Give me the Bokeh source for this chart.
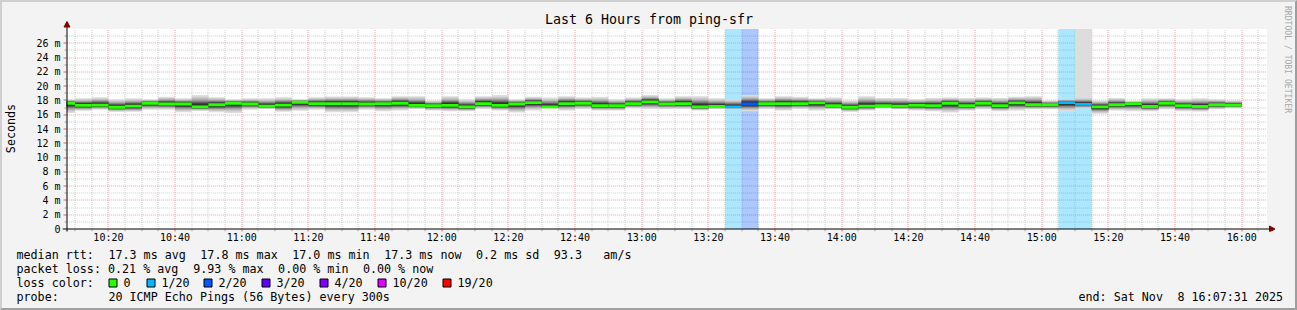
import re
import math
from bokeh.plotting import figure
from bokeh.layouts import column, row
from bokeh.models import FixedTicker, ColumnDataSource, Range1d
from bokeh.core.properties import value
from bokeh.embed import file_html
from bokeh.resources import INLINE

# ---------------- data ----------------
title_text = "Last 6 Hours from ping-sfr"
y_axis_title = "Seconds"
watermark = "RRDTOOL / TOBI OETIKER"
graph_start = "10:07:31"
graph_hours = 6
first_step = "10:05"
step_minutes = 5

x_tick_labels = ["10:20", "10:40", "11:00", "11:20", "11:40", "12:00", "12:20", "12:40",
                 "13:00", "13:20", "13:40", "14:00", "14:20", "14:40", "15:00", "15:20",
                 "15:40", "16:00"]
y_tick_values = [0, 2, 4, 6, 8, 10, 12, 14, 16, 18, 20, 22, 24, 26]
y_tick_labels = ["0", "2 m", "4 m", "6 m", "8 m", "10 m", "12 m", "14 m", "16 m", "18 m",
                 "20 m", "22 m", "24 m", "26 m"]
y_max = 28

# median rtt per 5-minute step (ms), steps starting 10:05 ... 15:55
median_ms = [17.6, 17.3, 17.35, 17.05, 17.2, 17.6, 17.5, 17.5, 17.1, 17.4, 17.6,
             17.5, 17.2, 17.35, 17.75, 17.55, 17.55, 17.55, 17.5, 17.55, 17.6, 17.3, 17.25,
             17.3, 17.1, 17.55, 17.3, 17.5, 17.7, 17.1, 17.55, 17.6, 17.25, 17.25, 17.55,
             17.8, 17.5, 17.55, 17.1, 17.15, 17.1, 17.5, 17.55, 17.55, 17.55, 17.65, 17.25,
             17.05, 17.2, 17.25, 17.2, 17.3, 17.25, 17.6, 17.25, 17.6, 17.25, 17.65, 17.4,
             17.4, 17.7, 17.45, 17.1, 17.4, 17.55, 17.15, 17.6, 17.25, 17.15, 17.4, 17.35]
# slowest ping (ms)
hi_ms = [18.15, 18.3, 18.45, 18.15, 18.3, 18.15, 18.5, 18.3, 18.75, 18.45, 18.15,
         18.3, 18.3, 18.45, 18.15, 18.45, 18.55, 18.55, 18.45, 18.3, 18.6, 18.6, 18.0,
         18.6, 18.15, 18.6, 18.75, 18.15, 18.5, 18.4, 18.6, 18.4, 18.5, 18.15, 18.4,
         18.75, 18.3, 18.6, 18.6, 18.3, 18.15, 18.75, 18.3, 18.6, 18.5, 18.3, 18.4,
         18.0, 18.6, 18.35, 18.35, 18.2, 18.35, 18.4, 18.35, 18.4, 18.35, 18.5, 18.6,
         18.0, 18.2, 18.4, 18.0, 18.35, 17.9, 18.3, 18.3, 18.15, 18.3, 18.15, 18.0]
# fastest ping (ms)
lo_ms = [16.25, 16.55, 16.7, 16.4, 16.4, 16.7, 16.7, 16.35, 16.55, 16.35, 16.25,
         16.7, 16.8, 16.4, 16.55, 16.7, 16.35, 16.35, 16.7, 16.5, 16.6, 16.8, 16.6,
         16.5, 16.5, 16.8, 16.6, 16.3, 16.6, 16.9, 16.6, 16.8, 16.6, 16.6, 16.9,
         16.8, 16.8, 16.8, 16.6, 16.8, 16.8, 16.5, 16.8, 16.6, 16.8, 16.6, 16.75,
         16.4, 16.6, 16.9, 16.75, 16.6, 16.5, 16.3, 16.6, 16.75, 16.5, 16.6, 16.75,
         16.75, 16.5, 16.9, 16.15, 16.6, 16.5, 16.5, 16.75, 16.5, 16.45, 16.75, 16.9]
# lost pings out of 20
loss_pings = [0, 0, 0, 0, 0, 0, 0, 0, 0, 0, 0,
              0, 0, 0, 0, 0, 0, 0, 0, 0, 0, 0, 0,
              0, 0, 0, 0, 0, 0, 0, 0, 0, 0, 0, 0,
              0, 0, 0, 0, 0, 1, 2, 0, 0, 0, 0, 0,
              0, 0, 0, 0, 0, 0, 0, 0, 0, 0, 0, 0,
              0, 1, 1, 0, 0, 0, 0, 0, 0, 0, 0, 0]
# a single very slow ping beyond the top of the graph
spike_steps = ["15:10"]
spike_ms = [30.0]

loss_levels = [0, 1, 2, 3, 4, 10, 19]
loss_labels = ["0", "1/20", "2/20", "3/20", "4/20", "10/20", "19/20"]
loss_colors = ["#26ff00", "#00b8ff", "#0059ff", "#5e00ff", "#7e00ff", "#dd00ff", "#ff0000"]

rtt_line = "median rtt:  17.3 ms avg  17.8 ms max  17.0 ms min  17.3 ms now  0.2 ms sd  93.3   am/s"
loss_line = "packet loss: 0.21 % avg  9.93 % max  0.00 % min  0.00 % now"
loss_color_title = "loss color:"
probe_line = "probe:       20 ICMP Echo Pings (56 Bytes) every 300s"
end_line = "end: Sat Nov  8 16:07:31 2025"

# ---------------- helpers ----------------
def hm(s):
    parts = [int(v) for v in s.split(":")]
    sec = parts[2] if len(parts) > 2 else 0
    return parts[0] * 60 + parts[1] - 600 + sec / 60.0

x0 = hm(graph_start)
x1 = x0 + graph_hours * 60
x_tick_values = [hm(s) for s in x_tick_labels]
n = len(median_ms)
starts = [hm(first_step) + step_minutes * i for i in range(n)]

def loss_index(k):
    idx = 0
    for j, lv in enumerate(loss_levels):
        if k >= lv:
            idx = j
    return idx

spike_x = {hm(s): v for s, v in zip(spike_steps, spike_ms)}

MONO = "DejaVu Sans Mono"
BG = "#f3f3f3"
BW = 2                                  # page border
INNER_W, INNER_H = 1297 - 2 * BW, 310 - 2 * BW
TOP_H = 244                             # graph part height (inside border)
STRIP_W = 20                            # strip holding the vertical axis title

# page-pixel geometry of the graph (layout only)
XO, YO = 66.3, 228.5                    # page pixel of (graph start, 0 ms)
MPP = graph_hours * 60 / 1200.0         # minutes per pixel
MSP = y_max / 200.0                     # ms per pixel
FRAME_L, FRAME_R, FRAME_T, FRAME_B = 62, 1295, 3, 231

def X(px):
    return x0 + (px - XO) * MPP

def Y(py):
    return (YO - py) * MSP

def snapx(t):
    px = XO + (t - x0) / MPP
    return X(math.floor(px) + 0.5)

def snapy(v):
    py = YO - v / MSP
    return Y(math.floor(py) + 0.5)

yr = Range1d(Y(FRAME_B), Y(FRAME_T))
MAIN_W = INNER_W - STRIP_W

# ---------------- main graph ----------------
p = figure(width=MAIN_W, height=TOP_H,
           x_range=Range1d(X(FRAME_L), X(FRAME_R)), y_range=yr,
           toolbar_location=None, output_backend="svg", title=None,
           min_border_left=FRAME_L - BW - STRIP_W, min_border_right=0,
           min_border_top=FRAME_T - BW, min_border_bottom=TOP_H - (FRAME_B - BW),
           background_fill_color=BG, border_fill_color=BG, outline_line_color=None)
p.xgrid.visible = False
p.ygrid.visible = False

ax = p.xaxis[0]
ax.ticker = FixedTicker(ticks=x_tick_values, minor_ticks=[])
ax.major_label_overrides = {v: l for v, l in zip(x_tick_values, x_tick_labels)}
ax.axis_line_color = None
ax.major_tick_in = 0
ax.major_tick_out = 0
ax.minor_tick_in = 0
ax.minor_tick_out = 0
ax.major_label_standoff = 0
ax.major_label_text_font = MONO
ax.major_label_text_font_size = "10px"
ax.major_label_text_color = "#000000"

ay = p.yaxis[0]
ay.ticker = FixedTicker(ticks=y_tick_values, minor_ticks=[])
ay.major_label_overrides = {v: l for v, l in zip(y_tick_values, y_tick_labels)}
ay.axis_line_color = None
ay.major_tick_in = 0
ay.major_tick_out = 0
ay.minor_tick_in = 0
ay.minor_tick_out = 0
ay.major_label_standoff = 2
ay.major_label_text_font = MONO
ay.major_label_text_font_size = "10px"
ay.major_label_text_color = "#000000"

# white canvas of the graph
p.quad(left=[x0], right=[x1], bottom=[0], top=[y_max], fill_color="#ffffff", line_color=None)

# grid
minor_t = [hm("10:10") + 5 * i for i in range(72)]
minor_t = [t for t in minor_t if t < x1 and t not in x_tick_values]
major_y = [v for v in y_tick_values if v > 0]
minor_y = [v for v in range(1, y_max) if v not in y_tick_values]
gx = [snapx(t) for t in minor_t]
p.segment(x0=gx, x1=gx, y0=0, y1=y_max, line_color="#cdcdcd", line_width=1, line_dash="1 1")
gy = [snapy(v) for v in minor_y]
p.segment(x0=x0, x1=x1, y0=gy, y1=gy, line_color="#cdcdcd", line_width=1, line_dash="1 1")
gx = [snapx(t) for t in x_tick_values]
p.segment(x0=gx, x1=gx, y0=0, y1=y_max, line_color="#f2a0a0", line_width=1, line_dash="1 1")
gy = [snapy(v) for v in major_y]
p.segment(x0=x0, x1=x1, y0=gy, y1=gy, line_color="#f2a0a0", line_width=1, line_dash="1 1")

# loss background columns
bg = dict(left=[], right=[], color=[])
for s, k in zip(starts, loss_pings):
    if k > 0:
        bg["left"].append(max(s, x0))
        bg["right"].append(s + step_minutes)
        bg["color"].append(loss_colors[loss_index(k)])
p.quad(left="left", right="right", bottom=0, top=y_max, fill_color="color",
       fill_alpha=0.33, line_color=None, source=ColumnDataSource(bg))

# smoke layers (outermost light -> innermost dark)
shades = ["#dddddd", "#cacaca", "#b7b7b7", "#a4a4a4", "#919191",
          "#7e7e7e", "#6b6b6b", "#585858", "#454545", "#323232"]
spread = [1.0, 0.85, 0.72, 0.62, 0.54, 0.47, 0.41, 0.36, 0.31, 0.26]
sm = dict(left=[], right=[], bottom=[], top=[], color=[])
for li, (shade, f) in enumerate(zip(shades, spread)):
    for s, m, lo, hi in zip(starts, median_ms, lo_ms, hi_ms):
        top = m + (hi - m) * f
        if li == 0 and s in spike_x:
            top = spike_x[s]
        sm["left"].append(max(s, x0))
        sm["right"].append(s + step_minutes)
        sm["bottom"].append(m - (m - lo) * f)
        sm["top"].append(min(top, y_max))
        sm["color"].append(shade)
p.quad(left="left", right="right", bottom="bottom", top="top", fill_color="color",
       line_color=None, source=ColumnDataSource(sm))

# median bars coloured by loss
half = 0.2
md = dict(left=[max(s, x0) for s in starts], right=[s + step_minutes for s in starts],
          bottom=[m - half for m in median_ms], top=[m + half for m in median_ms],
          color=[loss_colors[loss_index(k)] for k in loss_pings])
p.quad(left="left", right="right", bottom="bottom", top="top", fill_color="color",
       line_color=None, source=ColumnDataSource(md))

# axis ticks
tx_major = [snapx(t) for t in x_tick_values]
p.segment(x0=tx_major, x1=tx_major, y0=Y(229), y1=Y(232), line_color="#e06060", line_width=1)
tx_minor = [snapx(t) for t in minor_t]
p.segment(x0=tx_minor, x1=tx_minor, y0=Y(229), y1=Y(231), line_color="#a0a0a0", line_width=1)
ty_major = [snapy(v) for v in major_y]
p.segment(x0=X(63), x1=X(66), y0=ty_major, y1=ty_major, line_color="#e06060", line_width=1)
ty_minor = [snapy(v) for v in minor_y]
p.segment(x0=X(64), x1=X(66), y0=ty_minor, y1=ty_minor, line_color="#a0a0a0", line_width=1)

# axis lines and arrows
p.segment(x0=[X(66.5), X(62)], x1=[X(66.5), X(1270)], y0=[Y(233), Y(228.5)],
          y1=[Y(22), Y(228.5)], line_color="#000000", line_width=1)
arrow_col = "#7f0000"
p.patches(xs=[[X(63.5), X(69.5), X(66.5)], [X(1269), X(1269), X(1274.5)]],
          ys=[[Y(26.5), Y(26.5), Y(21)], [Y(225.5), Y(231.5), Y(228.5)]],
          fill_color=arrow_col, line_color=arrow_col, line_width=1)

# title and watermark
p.text(x=[X(648.5)], y=[Y(19)], text=[title_text], text_font=value(MONO),
       text_font_size=value("13.3px"), text_color="#000000",
       text_align="center", text_baseline="middle")
p.text(x=[X(1287.5)], y=[Y(59)], text=[watermark], angle=-math.pi / 2,
       text_font=value(MONO), text_font_size=value("8.1px"), text_color="#a8a8a8",
       text_align="center", text_baseline="middle")

# ---------------- left strip with the vertical axis title ----------------
st = figure(width=STRIP_W, height=TOP_H, x_range=Range1d(0, STRIP_W), y_range=yr,
            toolbar_location=None, output_backend="svg", title=None,
            x_axis_type=None, y_axis_type=None,
            min_border_left=0, min_border_right=0,
            min_border_top=FRAME_T - BW, min_border_bottom=TOP_H - (FRAME_B - BW),
            background_fill_color=BG, border_fill_color=BG, outline_line_color=None)
st.text(x=[10 - BW], y=[Y(128)], text=[y_axis_title], angle=math.pi / 2,
        text_font=value(MONO), text_font_size=value("11.7px"), text_color="#000000",
        text_align="center", text_baseline="middle")

# ---------------- legend area (below graph) ----------------
LEG_H = INNER_H - TOP_H
lg = figure(width=INNER_W, height=LEG_H, x_range=Range1d(0, INNER_W), y_range=Range1d(LEG_H, 0),
            toolbar_location=None, output_backend="svg", title=None,
            x_axis_type=None, y_axis_type=None,
            min_border_left=0, min_border_right=0, min_border_top=0, min_border_bottom=0,
            background_fill_color=BG, border_fill_color=BG, outline_line_color=None)

CW = 7.07
tx, ty, tt = [], [], []
def add_line(line, x, y):
    for mt in re.finditer(r"\S+(?: \S+)*", line):
        tx.append(x + mt.start() * CW - BW)
        ty.append(y - BW - TOP_H)
        tt.append(mt.group(0))

add_line(rtt_line, 16, 254)
add_line(loss_line, 16, 268)
add_line(loss_color_title, 16, 282)
add_line(probe_line, 16, 296)
add_line(end_line, 1078, 296)

box_x = [108, 146, 203, 261, 319, 377, 442]
bl, br, bc = [], [], []
for bx, lab, col in zip(box_x, loss_labels, loss_colors):
    bl.append(bx - BW + 0.5)
    br.append(bx + 8.5 - BW)
    bc.append(col)
    tx.append(bx + 15 - BW)
    ty.append(282 - BW - TOP_H)
    tt.append(lab)

lg.quad(left=bl, right=br, top=278.5 - BW - TOP_H, bottom=286.5 - BW - TOP_H,
        fill_color=bc, line_color="#000000", line_width=1)
lg.text(x=tx, y=ty, text=tt, text_font=value(MONO), text_font_size=value("11.7px"),
        text_color="#000000", text_align="left", text_baseline="middle")

layout = column(row(st, p), lg)
layout.styles = {"border-top": "2px solid #cfcfcf", "border-left": "2px solid #cfcfcf",
                 "border-bottom": "2px solid #9e9e9e", "border-right": "2px solid #9e9e9e",
                 "background-color": BG}

open("out.html", "w").write(file_html(layout, INLINE))
